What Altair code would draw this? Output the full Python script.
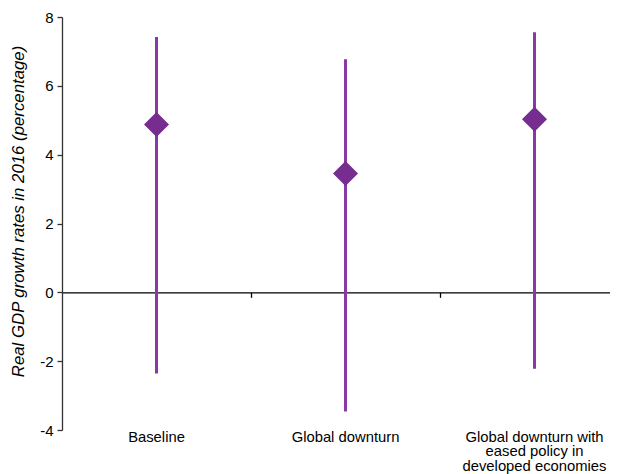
import altair as alt
import pandas as pd

categories = ["Baseline", "Global downturn", "Global downturn with\neased policy in\ndeveloped economies"]
positions = [0.5, 1.5, 2.5]
central = [4.88, 3.45, 5.03]
low = [-2.36, -3.46, -2.22]
high = [7.42, 6.77, 7.56]
y_ticks = [-4, -2, 0, 2, 4, 6, 8]
divider_ticks = [1, 2]

df = pd.DataFrame({"pos": positions, "label": categories,
                   "central": central, "low": low, "high": high})

W, H = 548, 413
STEP = 189.0
D = W / STEP
FONT = "Liberation Sans"
LINE = "#8a38a5"
DIAM = "#772c8f"

xscale = alt.Scale(domain=[0, D], nice=False, zero=False)
yscale = alt.Scale(domain=[-4, 8], nice=False, zero=False)

base = alt.Chart(df)

rules = base.mark_rule(color=LINE, strokeWidth=3).encode(
    x=alt.X("pos:Q", scale=xscale,
            axis=alt.Axis(values=divider_ticks, labels=False, title=None, grid=False,
                          tickSize=5, domainColor="black", tickColor="black",
                          domainWidth=1.3, tickWidth=1.3, offset=-H * 4 / 12)),
    y=alt.Y("low:Q", scale=yscale,
            axis=alt.Axis(values=y_ticks, title="Real GDP growth rates in 2016 (percentage)",
                          labelExpr="'' + datum.value",
                          grid=False, tickSize=5, labelPadding=4,
                          labelFontSize=15, labelFont=FONT, labelColor="black",
                          domainColor="#333333", tickColor="#333333",
                          domainWidth=1.3, tickWidth=1.3,
                          titleFont=FONT, titleFontSize=16.8, titleFontStyle="italic",
                          titleFontWeight="normal", titleColor="black",
                          titleAngle=270, titleX=-44, titleY=194,
                          titleAlign="center", titleBaseline="middle")),
    y2="high:Q",
)

points = base.mark_point(shape="diamond", filled=True, size=625, color=DIAM, opacity=1).encode(
    x=alt.X("pos:Q", scale=xscale),
    y=alt.Y("central:Q", scale=yscale),
)

labels = base.mark_text(baseline="top", align="center", lineBreak="\n", fontSize=14.8,
                        lineHeight=14.8, font=FONT, color="black", dy=-0.5).encode(
    x=alt.X("pos:Q", scale=xscale),
    y=alt.datum(-4),
    text="label:N",
)

chart = alt.layer(rules, points, labels).properties(
    width=W, height=H,
    autosize=alt.AutoSizeParams(type="none"),
    padding={"left": 54, "top": 9, "right": 0, "bottom": 44},
).configure_view(stroke=None)

chart.save("out.html", embed_options={"renderer": "svg", "actions": False})
